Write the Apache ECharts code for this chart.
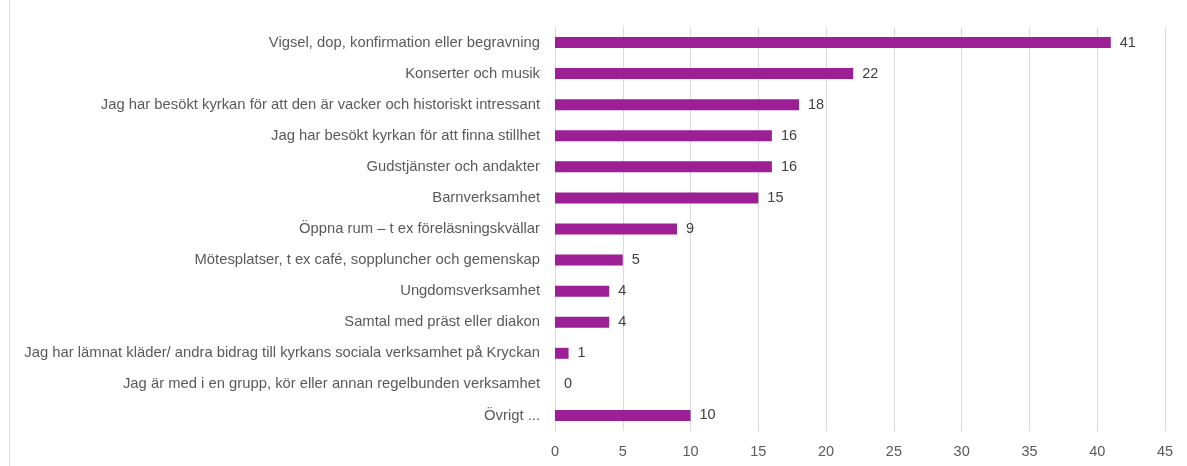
<!DOCTYPE html>
<html lang="sv">
<head>
<meta charset="UTF-8">
<title>Kyrkan</title>
<script src="https://cdn.jsdelivr.net/npm/echarts@6/dist/echarts.min.js"></script>
<style>
  html, body { margin: 0; padding: 0; background: #fff; }
  #chart { width: 1187px; height: 466px; }
</style>
</head>
<body>
<div id="chart"></div>
<script>
// categories, top to bottom as in the picture
const categories = [
  'Vigsel, dop, konfirmation eller begravning',
  'Konserter och musik',
  'Jag har besökt kyrkan för att den är vacker och historiskt intressant',
  'Jag har besökt kyrkan för att finna stillhet',
  'Gudstjänster och andakter',
  'Barnverksamhet',
  'Öppna rum – t ex föreläsningskvällar',
  'Mötesplatser, t ex café, soppluncher och gemenskap',
  'Ungdomsverksamhet',
  'Samtal med präst eller diakon',
  'Jag har lämnat kläder/ andra bidrag till kyrkans sociala verksamhet på Kryckan',
  'Jag är med i en grupp, kör eller annan regelbunden verksamhet',
  'Övrigt ...'
];
const values = [41, 22, 18, 16, 16, 15, 9, 5, 4, 4, 1, 0, 10];
const xTicks = { min: 0, max: 45, interval: 5 };

const chart = echarts.init(document.getElementById('chart'));
const font = '"Liberation Sans", Arial, sans-serif';

chart.setOption({
  animation: false,
  grid: { left: 555, right: 22, top: 27, bottom: 35 },
  xAxis: {
    type: 'value',
    min: xTicks.min, max: xTicks.max, interval: xTicks.interval,
    axisLine: { show: false },
    axisTick: { show: false },
    splitLine: { lineStyle: { color: '#d9d9d9', width: 1 } },
    axisLabel: { color: '#595959', fontSize: 14.5, fontFamily: font, margin: 13 }
  },
  yAxis: {
    type: 'category',
    inverse: true,
    data: categories,
    axisLine: { show: false },
    axisTick: { show: false },
    axisLabel: { color: '#595959', fontSize: 14.8, fontFamily: font, margin: 15, padding: [2, 0, 0, 0] }
  },
  series: [{
    type: 'bar',
    data: values,
    barWidth: 11,
    itemStyle: { color: '#9c1f96' },
    label: {
      show: true, position: 'right', distance: 9,
      color: '#404040', fontSize: 14.5, fontFamily: font, padding: [2, 0, 0, 0]
    }
  }],
  graphic: [{
    type: 'line',
    shape: { x1: 9.5, y1: 0, x2: 9.5, y2: 466 },
    style: { stroke: '#d9d9d9', lineWidth: 1 }
  }]
});
</script>
</body>
</html>
